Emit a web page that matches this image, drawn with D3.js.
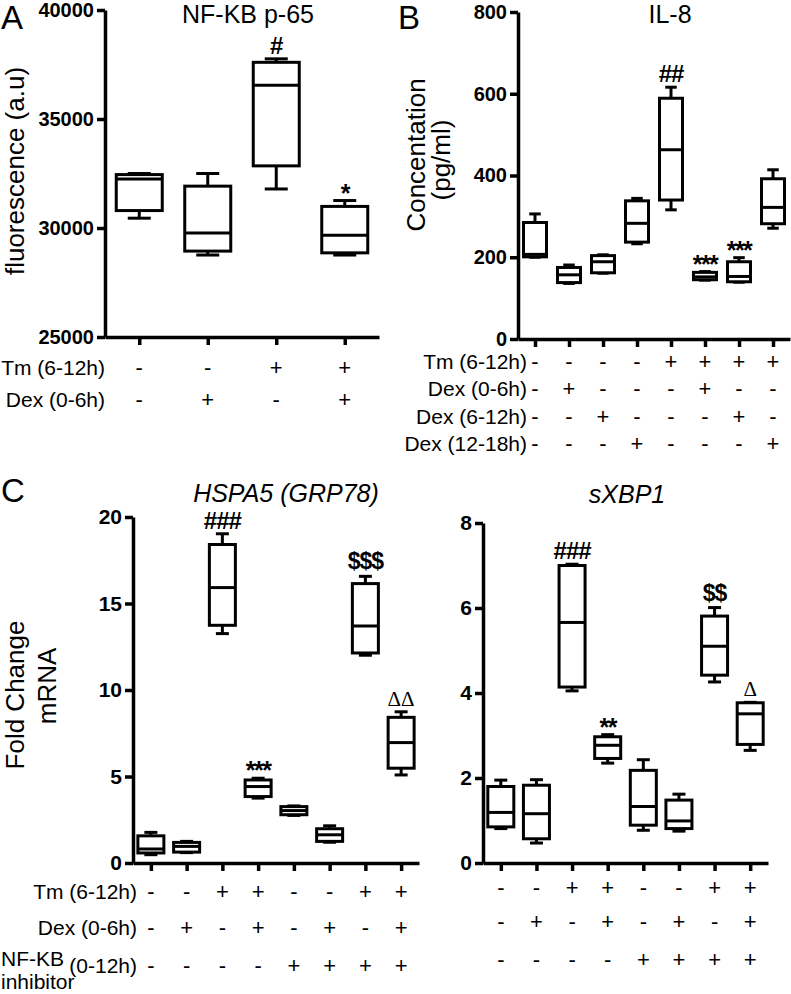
<!DOCTYPE html>
<html>
<head>
<meta charset="utf-8">
<script src="https://cdn.jsdelivr.net/npm/d3@7"></script>
<style>
  body { margin: 0; background: #fff; }
  svg text { font-family: Arial, "Liberation Sans", sans-serif; fill: #000; }
</style>
</head>
<body>
<div id="fig"></div>
<script>
// box stats per group: [min, q1, median, q3, max]
const nfkbBoxes = [
  [30450, 30800, 32250, 32450, 32500],
  [28760, 28940, 29770, 31920, 32500],
  [31790, 32850, 36550, 37600, 37760],
  [28760, 28860, 29670, 30990, 31260]
];
const nfkbMarks = ["", "", "#", "*"];
const nfkbTicks = [25000, 30000, 35000, 40000];
const nfkbRowLabels = ["Tm (6-12h)", "Dex (0-6h)"];
const nfkbRows = [
  ["-", "-", "+", "+"],
  ["-", "+", "-", "+"]
];

const il8Boxes = [
  [200, 201, 207, 285, 306],
  [136, 138, 157, 175, 181],
  [161, 162, 189, 204, 206],
  [233, 237, 283, 338, 344],
  [316, 340, 463, 589, 616],
  [144, 145, 152, 163, 165],
  [139, 140, 153, 189, 199],
  [271, 282, 322, 392, 414]
];
const il8Marks = ["", "", "", "", "##", "***", "***", ""];
const il8Ticks = [0, 200, 400, 600, 800];
const il8RowLabels = ["Tm (6-12h)", "Dex (0-6h)", "Dex (6-12h)", "Dex (12-18h)"];
const il8Rows = [
  ["-", "-", "-", "-", "+", "+", "+", "+"],
  ["-", "+", "-", "-", "-", "+", "-", "-"],
  ["-", "-", "+", "-", "-", "-", "+", "-"],
  ["-", "-", "-", "+", "-", "-", "-", "+"]
];

const hspaBoxes = [
  [0.48, 0.58, 0.81, 1.57, 1.77],
  [0.60, 0.63, 0.96, 1.19, 1.25],
  [13.26, 13.74, 15.92, 18.41, 19.03],
  [3.75, 3.84, 4.42, 4.80, 4.90],
  [2.75, 2.79, 3.03, 3.26, 3.30],
  [1.20, 1.25, 1.63, 1.98, 2.15],
  [12.01, 12.14, 13.70, 16.15, 16.57],
  [5.09, 5.48, 6.96, 8.42, 8.74]
];
const hspaMarks = ["", "", "###", "***", "", "", "$$$", "ΔΔ"];
const hspaTicks = [0, 5, 10, 15, 20];

const xbpBoxes = [
  [0.81, 0.85, 1.19, 1.80, 1.95],
  [0.47, 0.57, 1.16, 1.83, 1.96],
  [4.05, 4.14, 5.66, 7.00, 7.03],
  [2.35, 2.46, 2.77, 2.97, 3.02],
  [0.77, 0.89, 1.33, 2.18, 2.43],
  [0.75, 0.81, 0.99, 1.48, 1.62],
  [4.26, 4.42, 5.10, 5.81, 6.01],
  [2.65, 2.79, 3.51, 3.77, 3.78]
];
const xbpMarks = ["", "", "###", "**", "", "", "$$", "Δ"];
const xbpTicks = [0, 2, 4, 6, 8];

const cRowLabels = ["Tm (6-12h)", "Dex (0-6h)", "(0-12h)"];
const cRows = [
  ["-", "-", "+", "+", "-", "-", "+", "+"],
  ["-", "+", "-", "+", "-", "+", "-", "+"],
  ["-", "-", "-", "-", "+", "+", "+", "+"]
];
const cInhibitorLabel = ["NF-KB", "inhibitor"];

const width = 791;
const height = 994;

const svg = d3.select('#fig')
  .append('svg')
  .attr('width', width)
  .attr('height', height);

// style of the significance marks
function markStyle(m) {
  if (m[0] === '*') return { size: 25, weight: 'bold', family: null, dy: 1, ls: -1.5 };
  if (m[0] === '#') return { size: 24, weight: 'bold', family: null, dy: -5, ls: -1 };
  if (m[0] === '$') return { size: 23, weight: 'bold', family: null, dy: -7, ls: -1 };
  return { size: 21, weight: 'normal', family: '"Liberation Serif", "DejaVu Serif", serif', dy: -6, ls: 0 };
}

function boxPanel(o) {
  const n = o.boxes.length;
  const x = d3.scalePoint()
    .domain(d3.range(n))
    .range([o.x0, o.x1])
    .padding(0.5);
  const y = d3.scaleLinear()
    .domain([o.ticks[0], o.ticks[o.ticks.length - 1]])
    .range([o.y0, o.y1]);

  const g = svg.append('g');

  // y axis
  const ya = g.append('g')
    .attr('transform', `translate(${o.x0},0)`)
    .call(d3.axisLeft(y).tickValues(o.ticks).tickFormat(d3.format('d'))
      .tickSize(8).tickSizeOuter(0).tickPadding(3));
  ya.selectAll('path, line').attr('stroke', '#000').attr('stroke-width', 3.5);
  ya.selectAll('text')
    .attr('font-size', o.tickFont || 20)
    .attr('font-weight', 'bold');

  // x axis
  const xa = g.append('g')
    .attr('transform', `translate(0,${o.y0})`)
    .call(d3.axisBottom(x).tickSize(8).tickSizeOuter(0).tickFormat(''));
  xa.selectAll('path, line').attr('stroke', '#000').attr('stroke-width', 3.5);

  const bw = o.boxWidth;
  const boxes = g.selectAll('.box')
    .data(o.boxes)
    .enter()
    .append('g')
    .attr('class', 'box')
    .attr('transform', (d, i) => `translate(${x(i)},0)`);

  const sw = 3;
  // whiskers
  boxes.append('line')
    .attr('y1', d => y(d[3])).attr('y2', d => y(d[4]))
    .attr('stroke', '#000').attr('stroke-width', sw);
  boxes.append('line')
    .attr('y1', d => y(d[1])).attr('y2', d => y(d[0]))
    .attr('stroke', '#000').attr('stroke-width', sw);
  boxes.append('line')
    .attr('x1', -bw / 4).attr('x2', bw / 4)
    .attr('y1', d => y(d[4])).attr('y2', d => y(d[4]))
    .attr('stroke', '#000').attr('stroke-width', sw);
  boxes.append('line')
    .attr('x1', -bw / 4).attr('x2', bw / 4)
    .attr('y1', d => y(d[0])).attr('y2', d => y(d[0]))
    .attr('stroke', '#000').attr('stroke-width', sw);
  // box
  boxes.append('rect')
    .attr('x', -bw / 2)
    .attr('width', bw)
    .attr('y', d => y(d[3]))
    .attr('height', d => y(d[1]) - y(d[3]))
    .attr('fill', '#fff')
    .attr('stroke', '#000')
    .attr('stroke-width', sw);
  // median
  boxes.append('line')
    .attr('x1', -bw / 2).attr('x2', bw / 2)
    .attr('y1', d => y(d[2])).attr('y2', d => y(d[2]))
    .attr('stroke', '#000').attr('stroke-width', sw);

  // significance marks
  g.selectAll('.mark')
    .data(o.marks)
    .enter()
    .append('text')
    .attr('class', 'mark')
    .text(d => d)
    .attr('x', (d, i) => x(i))
    .attr('y', (d, i) => y(o.boxes[i][4]) + (d ? markStyle(d).dy : 0))
    .attr('text-anchor', 'middle')
    .attr('font-size', d => d ? markStyle(d).size : 10)
    .attr('font-weight', d => d ? markStyle(d).weight : 'normal')
    .attr('letter-spacing', d => d ? markStyle(d).ls : 0)
    .each(function(d) {
      if (d && markStyle(d).family) d3.select(this).style('font-family', markStyle(d).family);
    });

  // title
  g.append('text')
    .text(o.title)
    .attr('x', o.titleX)
    .attr('y', o.titleY)
    .attr('text-anchor', 'middle')
    .attr('font-size', 25)
    .attr('font-style', o.italic ? 'italic' : 'normal');

  // treatment table
  o.rows.forEach((row, r) => {
    g.selectAll(null)
      .data(row)
      .enter()
      .append('text')
      .text(d => d)
      .attr('x', (d, i) => x(i))
      .attr('y', o.rowY[r])
      .attr('text-anchor', 'middle')
      .attr('font-size', 22);
    if (o.rowLabels) {
      g.append('text')
        .text(o.rowLabels[r])
        .attr('x', o.labelX)
        .attr('y', o.rowY[r])
        .attr('text-anchor', 'end')
        .attr('font-size', 21);
    }
  });

  // y label lines
  (o.yLabel || []).forEach(l => {
    g.append('text')
      .text(l.text)
      .attr('transform', `translate(${l.x},${l.y}) rotate(-90)`)
      .attr('text-anchor', 'middle')
      .attr('font-size', 26);
  });

  return g;
}

boxPanel({
  boxes: nfkbBoxes, marks: nfkbMarks, ticks: nfkbTicks,
  x0: 105, x1: 379, y0: 337, y1: 10, boxWidth: 46,
  title: 'NF-KB p-65', titleX: 248, titleY: 23,
  rows: nfkbRows, rowLabels: nfkbRowLabels, rowY: [375, 407], labelX: 105,
  yLabel: [{ text: 'fluorescence (a.u)', x: 24, y: 171 }]
});

boxPanel({
  boxes: il8Boxes, marks: il8Marks, ticks: il8Ticks,
  x0: 518, x1: 790, y0: 339, y1: 12, boxWidth: 23,
  title: 'IL-8', titleX: 670, titleY: 23,
  rows: il8Rows, rowLabels: il8RowLabels, rowY: [369, 396, 424, 451], labelX: 527,
  yLabel: [{ text: 'Concentation', x: 425, y: 155 }, { text: '(pg/ml)', x: 450, y: 160 }]
});

boxPanel({
  boxes: hspaBoxes, marks: hspaMarks, ticks: hspaTicks,
  x0: 133, x1: 419, y0: 863, y1: 517, boxWidth: 26, tickFont: 21,
  title: 'HSPA5 (GRP78)', titleX: 286, titleY: 502, italic: true,
  rows: cRows, rowLabels: cRowLabels, rowY: [899, 935, 973], labelX: 137,
  yLabel: [{ text: 'Fold Change', x: 24, y: 695 }, { text: 'mRNA', x: 56, y: 686 }]
});

boxPanel({
  boxes: xbpBoxes, marks: xbpMarks, ticks: xbpTicks,
  x0: 483, x1: 768, y0: 863, y1: 523, boxWidth: 26, tickFont: 21,
  title: 'sXBP1', titleX: 627, titleY: 503, italic: true,
  rows: cRows, rowY: [895, 929, 967]
});

// NF-KB inhibitor label
svg.selectAll('.inh')
  .data(cInhibitorLabel)
  .enter()
  .append('text')
  .attr('class', 'inh')
  .text(d => d)
  .attr('x', 1)
  .attr('y', (d, i) => 966 + i * 23)
  .attr('font-size', 21);

// panel letters
svg.append('text').text('A').attr('x', 1).attr('y', 29).attr('font-size', 33);
svg.append('text').text('B').attr('x', 398).attr('y', 29).attr('font-size', 33);
svg.append('text').text('C').attr('x', 1).attr('y', 502).attr('font-size', 33);
</script>
</body>
</html>
